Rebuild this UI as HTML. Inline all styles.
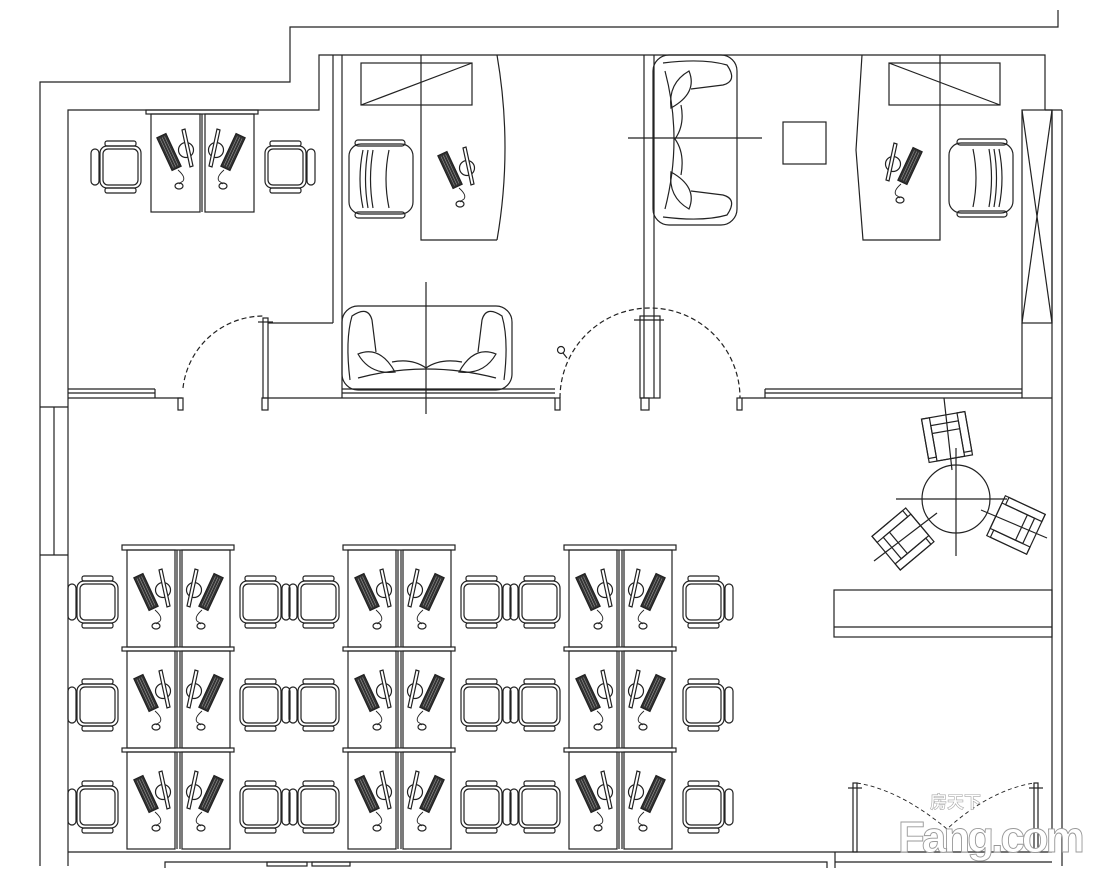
<!DOCTYPE html>
<html><head><meta charset="utf-8"><style>
html,body{margin:0;padding:0;background:#fff;}
svg{display:block;}
</style></head><body>
<svg width="1094" height="877" viewBox="0 0 1094 877" xmlns="http://www.w3.org/2000/svg" fill="none" stroke="#222" stroke-width="1.2">
<defs>
  <g id="pc">
    <circle cx="0" cy="0" r="7.5"/>
    <polygon points="-4,-20 -1,-21 7,16 4,17" fill="#fff"/>
    <g transform="translate(-17,2) rotate(-25)">
      <rect x="-5" y="-18" width="10" height="36" fill="#333"/>
      <line x1="-2.5" y1="-16" x2="-2.5" y2="16" stroke="#aaa" stroke-width="0.5"/>
      <line x1="0" y1="-16" x2="0" y2="16" stroke="#aaa" stroke-width="0.5"/>
      <line x1="2.5" y1="-16" x2="2.5" y2="16" stroke="#aaa" stroke-width="0.5"/>
    </g>
    <path d="M-8,20 Q0,27 -3,31 Q-6,33 -7,34" stroke-width="0.9"/>
    <ellipse cx="-7" cy="36" rx="4" ry="3"/>
  </g>
  <g id="chair">
    <rect x="0" y="0" width="41" height="42" rx="7"/>
    <rect x="3" y="3" width="35" height="36" rx="5"/>
    <rect x="-9" y="3" width="8" height="36" rx="4"/>
    <rect x="5" y="-5" width="31" height="5" rx="2"/>
    <rect x="5" y="42" width="31" height="5" rx="2"/>
  </g>
  <g id="pair">
    <rect x="0" y="0" width="48" height="97"/>
    <rect x="55" y="0" width="48" height="97"/>
    <line x1="50" y1="0" x2="50" y2="97"/>
    <line x1="53" y1="0" x2="53" y2="97"/>
    <use href="#pc" transform="translate(36,40)"/>
    <use href="#pc" transform="translate(67,40) scale(-1,1)"/>
  </g>
  <g id="cluster">
    <rect x="-5" y="-5" width="112" height="5"/>
    <use href="#pair" transform="translate(0,0)"/>
    <rect x="-5" y="97" width="112" height="4"/>
    <use href="#pair" transform="translate(0,101)"/>
    <rect x="-5" y="198" width="112" height="4"/>
    <use href="#pair" transform="translate(0,202)"/>
  </g>
  <g id="arm">
    <rect x="0" y="0" width="64" height="70" rx="12"/>
    <rect x="6" y="-4" width="50" height="6" rx="3"/>
    <rect x="6" y="68" width="50" height="6" rx="3"/>
    <path d="M14,6 Q8,35 14,64 M19,6 Q14,35 19,64 M24,6 Q19,35 24,64"/>
    <path d="M40,6 Q34,35 40,64"/>
  </g>
  <g id="lchair">
    <rect x="-22" y="-22" width="44" height="44"/>
    <rect x="-14" y="-14" width="28" height="36"/>
    <rect x="-22" y="-22" width="8" height="40"/>
    <rect x="14" y="-22" width="8" height="40"/>
    <line x1="-14" y1="-6" x2="14" y2="-6"/>
  </g>
  <g id="sofa">
    <rect x="0" y="0" width="170" height="84" rx="16"/>
    <path d="M8,74 Q3,34 10,10 Q26,-1 30,14 L34,46"/>
    <path d="M162,74 Q167,34 160,10 Q144,-1 140,14 L136,46"/>
    <path d="M16,72 Q84,54 154,72"/>
    <path d="M16,48 Q38,39 53,66 Q28,69 16,48 Z"/>
    <path d="M154,48 Q132,39 117,66 Q142,69 154,48 Z"/>
    <path d="M50,56 Q70,52 84,62 Q98,52 120,56"/>
  </g>
</defs>

<!-- outer walls -->
<polyline points="1058,10 1058,27 290,27 290,82 40,82 40,866"/>
<polyline points="68,866 68,110 319,110 319,55 1045,55 1045,110"/>
<line x1="333" y1="55" x2="333" y2="323"/>
<line x1="342" y1="55" x2="342" y2="398"/>
<line x1="644" y1="55" x2="644" y2="398"/>
<line x1="654" y1="55" x2="654" y2="398"/>
<!-- right walls -->
<rect x="1022" y="110" width="30" height="213"/>
<line x1="1022" y1="110" x2="1052" y2="323"/><line x1="1052" y1="110" x2="1022" y2="323"/>
<line x1="1052" y1="110" x2="1052" y2="852"/>
<line x1="1062" y1="110" x2="1062" y2="866"/>
<line x1="1045" y1="110" x2="1062" y2="110"/>
<line x1="1022" y1="323" x2="1022" y2="398"/>
<!-- left window -->
<line x1="40" y1="407" x2="68" y2="407"/><line x1="40" y1="555" x2="68" y2="555"/>
<line x1="54" y1="407" x2="54" y2="555"/>

<!-- lower wall of top rooms -->
<line x1="68" y1="389" x2="155" y2="389"/>
<line x1="68" y1="393" x2="155" y2="393"/>
<line x1="68" y1="398" x2="182" y2="398"/>
<line x1="155" y1="389" x2="155" y2="398"/>
<rect x="178" y="398" width="5" height="12"/>
<path d="M183,388 A81,81 0 0 1 264,316" stroke-dasharray="5,3"/>
<rect x="263" y="318" width="5" height="80"/>
<rect x="262" y="398" width="6" height="12"/>
<line x1="258" y1="322" x2="273" y2="322"/>
<line x1="268" y1="323" x2="333" y2="323"/>
<line x1="268" y1="398" x2="555" y2="398"/>
<line x1="342" y1="389" x2="555" y2="389"/>
<line x1="342" y1="393" x2="555" y2="393"/>
<rect x="555" y="398" width="5" height="12"/>
<path d="M560,398 A90,90 0 0 1 740,398" stroke-dasharray="5,3"/>
<rect x="640" y="316" width="20" height="82"/>
<rect x="641" y="398" width="8" height="12"/>
<line x1="634" y1="320" x2="664" y2="320"/>
<rect x="737" y="398" width="5" height="12"/>
<line x1="742" y1="398" x2="1052" y2="398"/>
<line x1="765" y1="389" x2="1022" y2="389"/>
<line x1="765" y1="393" x2="1022" y2="393"/>
<line x1="765" y1="389" x2="765" y2="398"/>
<circle cx="561" cy="350" r="3.5"/><line x1="563" y1="353" x2="567" y2="358"/>

<!-- top-left office -->
<rect x="146" y="110" width="112" height="4"/>
<rect x="151" y="114" width="49" height="98"/>
<rect x="205" y="114" width="49" height="98"/>
<line x1="202" y1="114" x2="202" y2="212"/>
<use href="#pc" transform="translate(186,150)"/>
<use href="#pc" transform="translate(216,150) scale(-1,1)"/>
<use href="#chair" transform="translate(100,146)"/>
<use href="#chair" transform="translate(306,146) scale(-1,1)"/>

<!-- manager room 1 -->
<rect x="361" y="63" width="111" height="42"/>
<line x1="361" y1="105" x2="472" y2="63"/>
<polyline points="421,55 421,240 497,240"/>
<path d="M497,55 Q513,148 497,240"/>
<use href="#pc" transform="translate(467,168)"/>
<use href="#arm" transform="translate(349,144)"/>
<!-- sofa 1 -->
<use href="#sofa" transform="translate(342,306)"/>
<line x1="426" y1="282" x2="426" y2="414"/>

<!-- manager room 2 -->
<use href="#sofa" transform="translate(737,55) rotate(90)"/>
<line x1="628" y1="138" x2="762" y2="138"/>
<rect x="783" y="122" width="43" height="42"/>
<polyline points="862,55 856,150 863,240 940,240 940,55"/>
<rect x="889" y="63" width="111" height="42"/>
<line x1="889" y1="63" x2="1000" y2="105"/>
<use href="#pc" transform="translate(893,164) scale(-1,1)"/>
<use href="#arm" transform="translate(1013,143) scale(-1,1)"/>

<!-- lounge -->
<circle cx="956" cy="499" r="34"/>
<line x1="896" y1="499" x2="1007" y2="499"/>
<line x1="956" y1="448" x2="956" y2="556"/>
<g transform="translate(947,437) rotate(-10)"><use href="#lchair"/></g>
<line x1="944" y1="398" x2="952" y2="470"/>
<g transform="translate(903,539) rotate(-130)"><use href="#lchair"/></g>
<line x1="874" y1="561" x2="937" y2="513"/>
<g transform="translate(1016,525) rotate(115)"><use href="#lchair"/></g>
<line x1="981" y1="510" x2="1047" y2="538"/>
<!-- counter -->
<rect x="834" y="590" width="218" height="47"/>
<line x1="834" y1="627" x2="1052" y2="627"/>

<!-- workstations -->
<use href="#cluster" transform="translate(127,550)"/>
<use href="#cluster" transform="translate(348,550)"/>
<use href="#cluster" transform="translate(569,550)"/>
<g>
  <use href="#chair" transform="translate(77,581)"/>
  <use href="#chair" transform="translate(77,684)"/>
  <use href="#chair" transform="translate(77,786)"/>
  <use href="#chair" transform="translate(281,581) scale(-1,1)"/>
  <use href="#chair" transform="translate(281,684) scale(-1,1)"/>
  <use href="#chair" transform="translate(281,786) scale(-1,1)"/>
  <use href="#chair" transform="translate(298,581)"/>
  <use href="#chair" transform="translate(298,684)"/>
  <use href="#chair" transform="translate(298,786)"/>
  <use href="#chair" transform="translate(502,581) scale(-1,1)"/>
  <use href="#chair" transform="translate(502,684) scale(-1,1)"/>
  <use href="#chair" transform="translate(502,786) scale(-1,1)"/>
  <use href="#chair" transform="translate(519,581)"/>
  <use href="#chair" transform="translate(519,684)"/>
  <use href="#chair" transform="translate(519,786)"/>
  <use href="#chair" transform="translate(724,581) scale(-1,1)"/>
  <use href="#chair" transform="translate(724,684) scale(-1,1)"/>
  <use href="#chair" transform="translate(724,786) scale(-1,1)"/>
</g>

<!-- bottom -->
<line x1="68" y1="852" x2="1052" y2="852"/>
<polyline points="165,868 165,862 827,862 827,868"/>
<polyline points="835,868 835,852"/>
<line x1="835" y1="862" x2="1052" y2="862"/>
<rect x="267" y="862" width="40" height="4"/><rect x="312" y="862" width="38" height="4"/>
<!-- bottom door -->
<rect x="853" y="783" width="4" height="69"/>
<rect x="1034" y="783" width="4" height="69"/>
<line x1="848" y1="788" x2="862" y2="788"/>
<line x1="1029" y1="788" x2="1043" y2="788"/>
<path d="M857,783 Q900,790 947,829 Q990,790 1034,783" stroke-dasharray="4,3" stroke-width="0.9"/>

<!-- watermark -->
<text x="930" y="808" font-family="Liberation Sans, Noto Sans CJK SC, sans-serif" font-size="17" font-weight="bold" fill="#fff" stroke="#aaa" stroke-width="0.6">房天下</text>
<text x="898" y="852" font-family="Liberation Sans, sans-serif" font-size="44" font-weight="bold" fill="#fff" stroke="#999" stroke-width="0.9" letter-spacing="-3">Fang.com</text>
</svg>
</body></html>
